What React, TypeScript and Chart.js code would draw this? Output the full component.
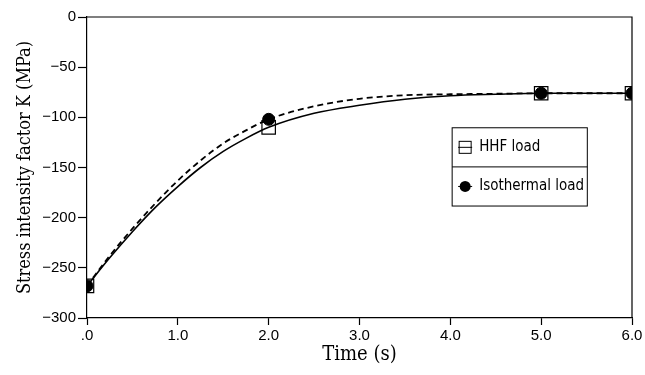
import React, { useEffect, useRef } from "react";
import { Chart, registerables } from "chart.js";

Chart.register(...registerables);

// Curve samples (time in s, K in MPa)
const curveTimes = [0, 0.25, 0.5, 0.75, 1, 1.25, 1.5, 1.75, 2, 2.5, 3, 3.5, 4, 4.5, 5, 5.5, 6];
const hhfCurve = [-268, -240, -214, -190, -169, -150, -134, -121, -110, -96, -88, -82, -78.5, -77, -76, -76, -76];
const isoCurve = [-268, -238, -211, -186, -163, -143, -126, -113, -102, -89, -81.5, -78, -77, -76.5, -76, -76, -76];

// Marker points
const markerTimes = [0, 2, 5, 6];
const hhfMarkers = [-268, -110, -76, -76];
const isoMarkers = [-268, -102, -76, -76];

const legendLabels = ["HHF load", "Isothermal load"];
const xTitle = "Time (s)";
const yTitle = "Stress intensity factor K (MPa)";

const toXY = (xs: number[], ys: number[]) => xs.map((x, i) => ({ x, y: ys[i] }));

const framePlugin = {
  id: "frameAndLegend",
  afterDraw(chart: any) {
    const { ctx, chartArea } = chart;
    const { left, right, top, bottom } = chartArea;
    const w = right - left;
    const h = bottom - top;
    ctx.save();
    ctx.strokeStyle = "#000";
    ctx.lineWidth = 1.2;
    ctx.beginPath();
    ctx.moveTo(left, top);
    ctx.lineTo(right, top);
    ctx.lineTo(right, bottom);
    ctx.stroke();

    // legend box
    const bx = left + w * 0.67;
    const by = top + h * 0.368;
    const bw = w * 0.248;
    const bh = h * 0.26;
    ctx.fillStyle = "#fff";
    ctx.fillRect(bx, by, bw, bh);
    ctx.lineWidth = 1;
    ctx.strokeRect(bx, by, bw, bh);
    ctx.beginPath();
    ctx.moveTo(bx, by + bh / 2);
    ctx.lineTo(bx + bw, by + bh / 2);
    ctx.stroke();

    ctx.font = "15px 'DejaVu Sans Condensed', 'DejaVu Sans', sans-serif";
    ctx.textBaseline = "middle";
    ctx.fillStyle = "#000";
    const r1 = by + bh * 0.25;
    const r2 = by + bh * 0.75;
    const ix = bx + 13;
    // square icon with line
    ctx.strokeRect(ix - 6, r1 - 6, 12, 12);
    ctx.beginPath();
    ctx.moveTo(ix - 7, r1);
    ctx.lineTo(ix + 7, r1);
    ctx.stroke();
    ctx.fillText(legendLabels[0], bx + 27, r1);
    // circle icon with line
    ctx.beginPath();
    ctx.arc(ix, r2, 5.5, 0, Math.PI * 2);
    ctx.fill();
    ctx.beginPath();
    ctx.moveTo(ix - 7, r2);
    ctx.lineTo(ix + 7, r2);
    ctx.stroke();
    ctx.fillText(legendLabels[1], bx + 27, r2);
    ctx.restore();
  },
};

export default function App() {
  const ref = useRef<HTMLCanvasElement | null>(null);
  useEffect(() => {
    if (!ref.current) return;
    const tickFont = { family: "'Liberation Sans', Arial, sans-serif", size: 15 };
    const titleFamily = "'DejaVu Serif Condensed', 'Liberation Serif', serif";
    const chart = new Chart(ref.current, {
      type: "scatter",
      data: {
        datasets: [
          {
            label: legendLabels[1] + " markers",
            data: toXY(markerTimes, isoMarkers),
            showLine: false,
            pointStyle: "circle",
            pointRadius: 6,
            backgroundColor: "#000",
            borderColor: "#000",
            order: 0,
          },
          {
            label: legendLabels[0] + " markers",
            data: toXY(markerTimes, hhfMarkers),
            showLine: false,
            pointStyle: "rect",
            pointRadius: 9.5,
            backgroundColor: "rgba(255,255,255,0)",
            borderColor: "#000",
            borderWidth: 1.2,
            order: 1,
          },
          {
            label: legendLabels[0],
            data: toXY(curveTimes, hhfCurve),
            showLine: true,
            pointRadius: 0,
            borderColor: "#000",
            borderWidth: 1.6,
            cubicInterpolationMode: "monotone",
            order: 2,
          },
          {
            label: legendLabels[1],
            data: toXY(curveTimes, isoCurve),
            showLine: true,
            pointRadius: 0,
            borderColor: "#000",
            borderWidth: 1.8,
            borderDash: [6, 4],
            cubicInterpolationMode: "monotone",
            order: 3,
          },
        ],
      },
      options: {
        animation: false,
        responsive: false,
        layout: { padding: { top: 17, right: 13, left: 0, bottom: 0 } },
        plugins: { legend: { display: false }, tooltip: { enabled: false } },
        scales: {
          x: {
            type: "linear",
            min: 0,
            max: 6,
            afterFit: (s: any) => { s.height = 57; },
            border: { display: true, color: "#000", width: 1.2 },
            grid: { drawOnChartArea: false, tickLength: 7, color: "#000", tickColor: "#000", tickWidth: 1.2 },
            ticks: {
              stepSize: 1,
              color: "#000",
              font: tickFont,
              padding: 2,
              maxRotation: 0,
              callback: (v: any) => (v === 0 ? ".0" : Number(v).toFixed(1)),
            },
            title: {
              display: true,
              text: xTitle,
              color: "#000",
              font: { family: titleFamily, size: 20 },
              padding: { top: 0, bottom: 8 },
            },
          },
          y: {
            type: "linear",
            min: -300,
            max: 0,
            afterFit: (s: any) => { s.width = 87; },
            border: { display: true, color: "#000", width: 1.2 },
            grid: { drawOnChartArea: false, tickLength: 9, color: "#000", tickColor: "#000", tickWidth: 1.2 },
            ticks: {
              stepSize: 50,
              color: "#000",
              font: tickFont,
              padding: 2,
              callback: (v: any) => (v < 0 ? "\u2212" + Math.abs(v) : String(v)),
            },
            title: {
              display: true,
              text: yTitle,
              color: "#000",
              font: { family: titleFamily, size: 18 },
              padding: { top: 15, bottom: 0 },
            },
          },
        },
      },
      plugins: [framePlugin],
    } as any);
    return () => chart.destroy();
  }, []);
  return (
    <div style={{ position: "fixed", left: 0, top: 0, width: 645, height: 375, background: "#fff" }}>
      <canvas ref={ref} width={645} height={375} style={{ width: 645, height: 375 }} />
    </div>
  );
}
